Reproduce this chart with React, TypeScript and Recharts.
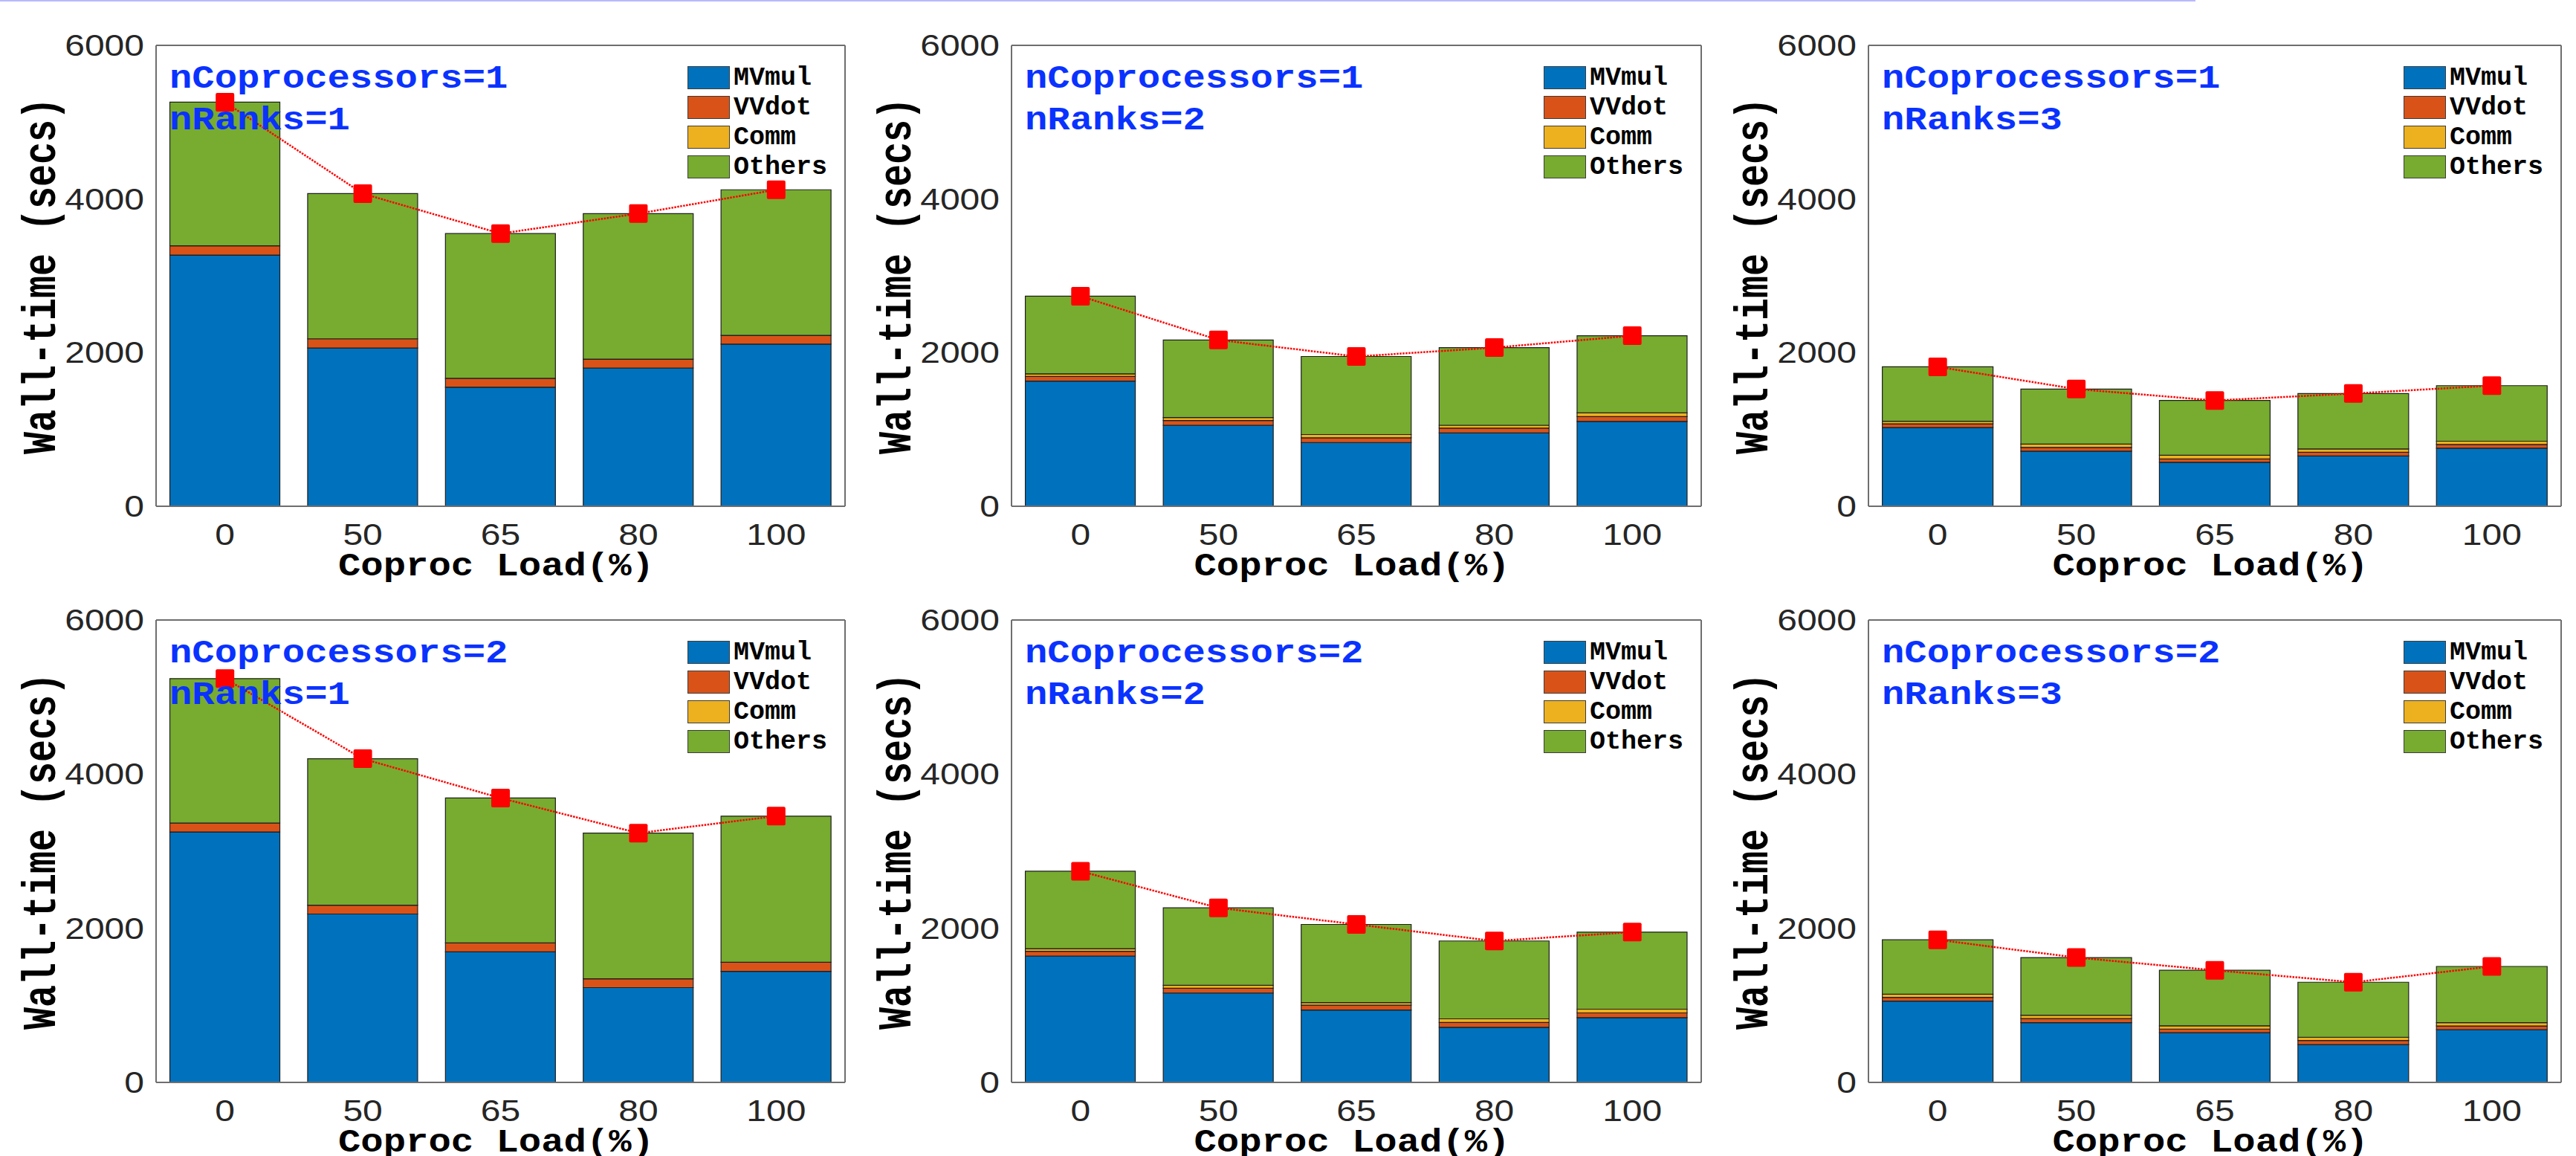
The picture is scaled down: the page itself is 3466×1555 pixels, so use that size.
import React from 'react';
import { ComposedChart, Bar, Line, XAxis, YAxis, Legend } from 'recharts';

// categories and legend
const loads = ['0', '50', '65', '80', '100'];
const seriesNames = ['MVmul', 'VVdot', 'Comm', 'Others'];
const seriesColors = ['#0072BD', '#D95319', '#EDB120', '#77AC30'];
const yTicks = [0, 2000, 4000, 6000];

// nCoprocessors=1, nRanks=1
const mvmulC1R1 = [3270, 2060, 1550, 1800, 2110];
const vvdotC1R1 = [120, 120, 115, 115, 115];
const commC1R1 = [0, 0, 0, 0, 0];
const othersC1R1 = [1870, 1890, 1885, 1895, 1895];
const wallC1R1 = [5260, 4070, 3550, 3810, 4120];

// nCoprocessors=1, nRanks=2
const mvmulC1R2 = [1630, 1055, 830, 955, 1105];
const vvdotC1R2 = [60, 62, 61, 62, 62];
const commC1R2 = [34, 38, 43, 38, 48];
const othersC1R2 = [1011, 1010, 1016, 1010, 1005];
const wallC1R2 = [2735, 2165, 1950, 2065, 2220];

// nCoprocessors=1, nRanks=3
const mvmulC1R3 = [1025, 717, 573, 655, 756];
const vvdotC1R3 = [48, 49, 43, 48, 48];
const commC1R3 = [33, 43, 48, 43, 43];
const othersC1R3 = [709, 717, 713, 722, 723];
const wallC1R3 = [1815, 1526, 1377, 1468, 1570];

// nCoprocessors=2, nRanks=1
const mvmulC2R1 = [3250, 2185, 1695, 1230, 1440];
const vvdotC2R1 = [115, 115, 115, 115, 120];
const commC2R1 = [0, 0, 0, 0, 0];
const othersC2R1 = [1875, 1900, 1880, 1890, 1895];
const wallC2R1 = [5240, 4200, 3690, 3235, 3455];

// nCoprocessors=2, nRanks=2
const mvmulC2R2 = [1640, 1160, 940, 715, 840];
const vvdotC2R2 = [62, 62, 62, 62, 62];
const commC2R2 = [34, 38, 34, 48, 48];
const othersC2R2 = [1004, 1005, 1014, 1010, 1000];
const wallC2R2 = [2740, 2265, 2050, 1835, 1950];

// nCoprocessors=2, nRanks=3
const mvmulC2R3 = [1055, 775, 645, 490, 685];
const vvdotC2R3 = [48, 53, 47, 53, 47];
const commC2R3 = [42, 43, 43, 43, 43];
const othersC2R3 = [705, 749, 720, 714, 730];
const wallC2R3 = [1850, 1620, 1455, 1300, 1505];

interface PanelData {
  cop: number;
  ranks: number;
  series: number[][];
  wall: number[];
}

const panels: PanelData[] = [
  { cop: 1, ranks: 1, series: [mvmulC1R1, vvdotC1R1, commC1R1, othersC1R1], wall: wallC1R1 },
  { cop: 1, ranks: 2, series: [mvmulC1R2, vvdotC1R2, commC1R2, othersC1R2], wall: wallC1R2 },
  { cop: 1, ranks: 3, series: [mvmulC1R3, vvdotC1R3, commC1R3, othersC1R3], wall: wallC1R3 },
  { cop: 2, ranks: 1, series: [mvmulC2R1, vvdotC2R1, commC2R1, othersC2R1], wall: wallC2R1 },
  { cop: 2, ranks: 2, series: [mvmulC2R2, vvdotC2R2, commC2R2, othersC2R2], wall: wallC2R2 },
  { cop: 2, ranks: 3, series: [mvmulC2R3, vvdotC2R3, commC2R3, othersC2R3], wall: wallC2R3 },
];

// plot-area boxes on the page
const boxes = [
  { left: 210, top: 61, w: 927, h: 620 },
  { left: 1361, top: 61, w: 928, h: 620 },
  { left: 2514, top: 61, w: 932, h: 620 },
  { left: 210, top: 834, w: 927, h: 622 },
  { left: 1361, top: 834, w: 928, h: 622 },
  { left: 2514, top: 834, w: 932, h: 622 },
];

const AXIS_W = 200;
const TOP_M = 45;
const RIGHT_M = 12;
const XAXIS_H = 120;

const BOX_COLOR = '#6e6e6e';
const MONO = '"Liberation Mono", "Courier New", monospace';
const SANS = '"Liberation Sans", Arial, sans-serif';

const XTick = (props: any) => {
  const { x, y, payload } = props;
  return (
    <text transform={`translate(${x},${y}) scale(1.2,1)`} y={29} textAnchor="middle"
      style={{ fontFamily: SANS, fontSize: 40 }} fill="#262626">
      {payload.value}
    </text>
  );
};

const YTick = (props: any) => {
  const { x, y, payload } = props;
  return (
    <text transform={`translate(${x},${y}) scale(1.2,1)`} y={14} textAnchor="end"
      style={{ fontFamily: SANS, fontSize: 40 }} fill="#262626">
      {payload.value}
    </text>
  );
};

const XLabel = (props: any) => {
  const vb = props.viewBox;
  const cx = vb.x + vb.width / 2 - 6;
  const cy = vb.y + 93;
  return (
    <text transform={`translate(${cx},${cy}) scale(1.15,1)`} textAnchor="middle"
      style={{ fontFamily: MONO, fontSize: 44, fontWeight: 'bold' }} fill="#000">
      Coproc Load(%)
    </text>
  );
};

const YLabel = (props: any) => {
  const vb = props.viewBox;
  const cx = vb.x + vb.width - 136;
  const cy = vb.y + vb.height / 2;
  return (
    <text transform={`translate(${cx},${cy}) rotate(-90) scale(1,1.25)`} textAnchor="middle"
      style={{ fontFamily: MONO, fontSize: 50, fontWeight: 'bold' }} fill="#000">
      Wall-time (secs)
    </text>
  );
};

const squareDot = (props: any) => {
  const { cx, cy, index } = props;
  return <rect key={`sq-${index}`} x={cx - 12.5} y={cy - 12.5} width={25} height={25} rx={2} fill="#ff0000" />;
};

const LegendBox = () => (
  <div>
    {seriesNames.map((name, i) => (
      <div key={name} style={{ display: 'flex', alignItems: 'center', height: 40 }}>
        <div style={{
          width: 57, height: 31, background: seriesColors[i],
          border: '1.5px solid #3c3c3c', boxSizing: 'border-box'
        }} />
        <span style={{
          marginLeft: 5, fontFamily: MONO, fontWeight: 'bold', fontSize: 35,
          color: '#000', lineHeight: '40px'
        }}>{name}</span>
      </div>
    ))}
  </div>
);

const Panel: React.FC<{ panel: PanelData; box: { left: number; top: number; w: number; h: number } }> = ({ panel, box }) => {
  const data = loads.map((load, i) => {
    const row: any = { load, wall: panel.wall[i] };
    seriesNames.forEach((name, k) => { row[name] = panel.series[k][i]; });
    return row;
  });
  const width = AXIS_W + box.w + RIGHT_M;
  const height = TOP_M + box.h + XAXIS_H;
  const lineStyle = { stroke: BOX_COLOR, strokeWidth: 2 };

  return (
    <div style={{ position: 'absolute', left: box.left - AXIS_W, top: box.top - TOP_M, width, height }}>
      <ComposedChart width={width} height={height} data={data}
        margin={{ top: TOP_M, right: RIGHT_M, bottom: 0, left: 0 }} barCategoryGap="10%">
        <XAxis dataKey="load" height={XAXIS_H} interval={0} tickLine={false} tickSize={0} tickMargin={23}
          axisLine={lineStyle} tick={<XTick />} label={XLabel} />
        <XAxis xAxisId="top" dataKey="load" orientation="top" mirror interval={0} tick={false}
          tickSize={9} tickLine={lineStyle} axisLine={lineStyle} />
        <YAxis width={AXIS_W} domain={[0, 6000]} ticks={yTicks} interval={0} tickLine={false}
          tickSize={0} tickMargin={16} axisLine={lineStyle} tick={<YTick />} label={YLabel} />
        <YAxis yAxisId="inner" orientation="left" mirror domain={[0, 6000]} ticks={yTicks} interval={0}
          tick={false} tickSize={9} tickLine={lineStyle} axisLine={false} />
        <YAxis yAxisId="right" orientation="right" mirror domain={[0, 6000]} ticks={yTicks} interval={0}
          tick={false} tickSize={9} tickLine={lineStyle} axisLine={lineStyle} />
        {seriesNames.map((name, k) => (
          <Bar key={name} dataKey={name} stackId="t" fill={seriesColors[k]} stroke="#1e1e1e"
            strokeWidth={1.2} isAnimationActive={false} />
        ))}
        <Line dataKey="wall" type="linear" stroke="#ff0000" strokeWidth={2.5} strokeDasharray="2.5 1.5"
          dot={squareDot} activeDot={false} isAnimationActive={false} />
        <Legend layout="vertical" align="center" verticalAlign="middle" content={<LegendBox />}
          wrapperStyle={{ left: AXIS_W + box.w - 212, top: TOP_M + 23.5, width: 200, bottom: 'auto', right: 'auto' }} />
      </ComposedChart>
      <svg width={width} height={height} style={{ position: 'absolute', left: 0, top: 0, pointerEvents: 'none' }}>
        <g style={{ fontFamily: MONO, fontSize: 44, fontWeight: 'bold' }} fill="#0a32ff">
          <text transform={`translate(${AXIS_W + 18},${TOP_M + 57}) scale(1.15,1)`}>{`nCoprocessors=${panel.cop}`}</text>
          <text transform={`translate(${AXIS_W + 18},${TOP_M + 113}) scale(1.15,1)`}>{`nRanks=${panel.ranks}`}</text>
        </g>
      </svg>
    </div>
  );
};

export default function App() {
  return (
    <div style={{
      position: 'absolute', left: 0, top: 0, width: 3466, height: 1555,
      overflow: 'hidden', background: '#ffffff'
    }}>
      <div style={{ position: 'absolute', left: 0, top: 0, width: 2954, height: 2, background: '#b8b8ff' }} />
      {panels.map((p, i) => (
        <Panel key={i} panel={p} box={boxes[i]} />
      ))}
    </div>
  );
}
